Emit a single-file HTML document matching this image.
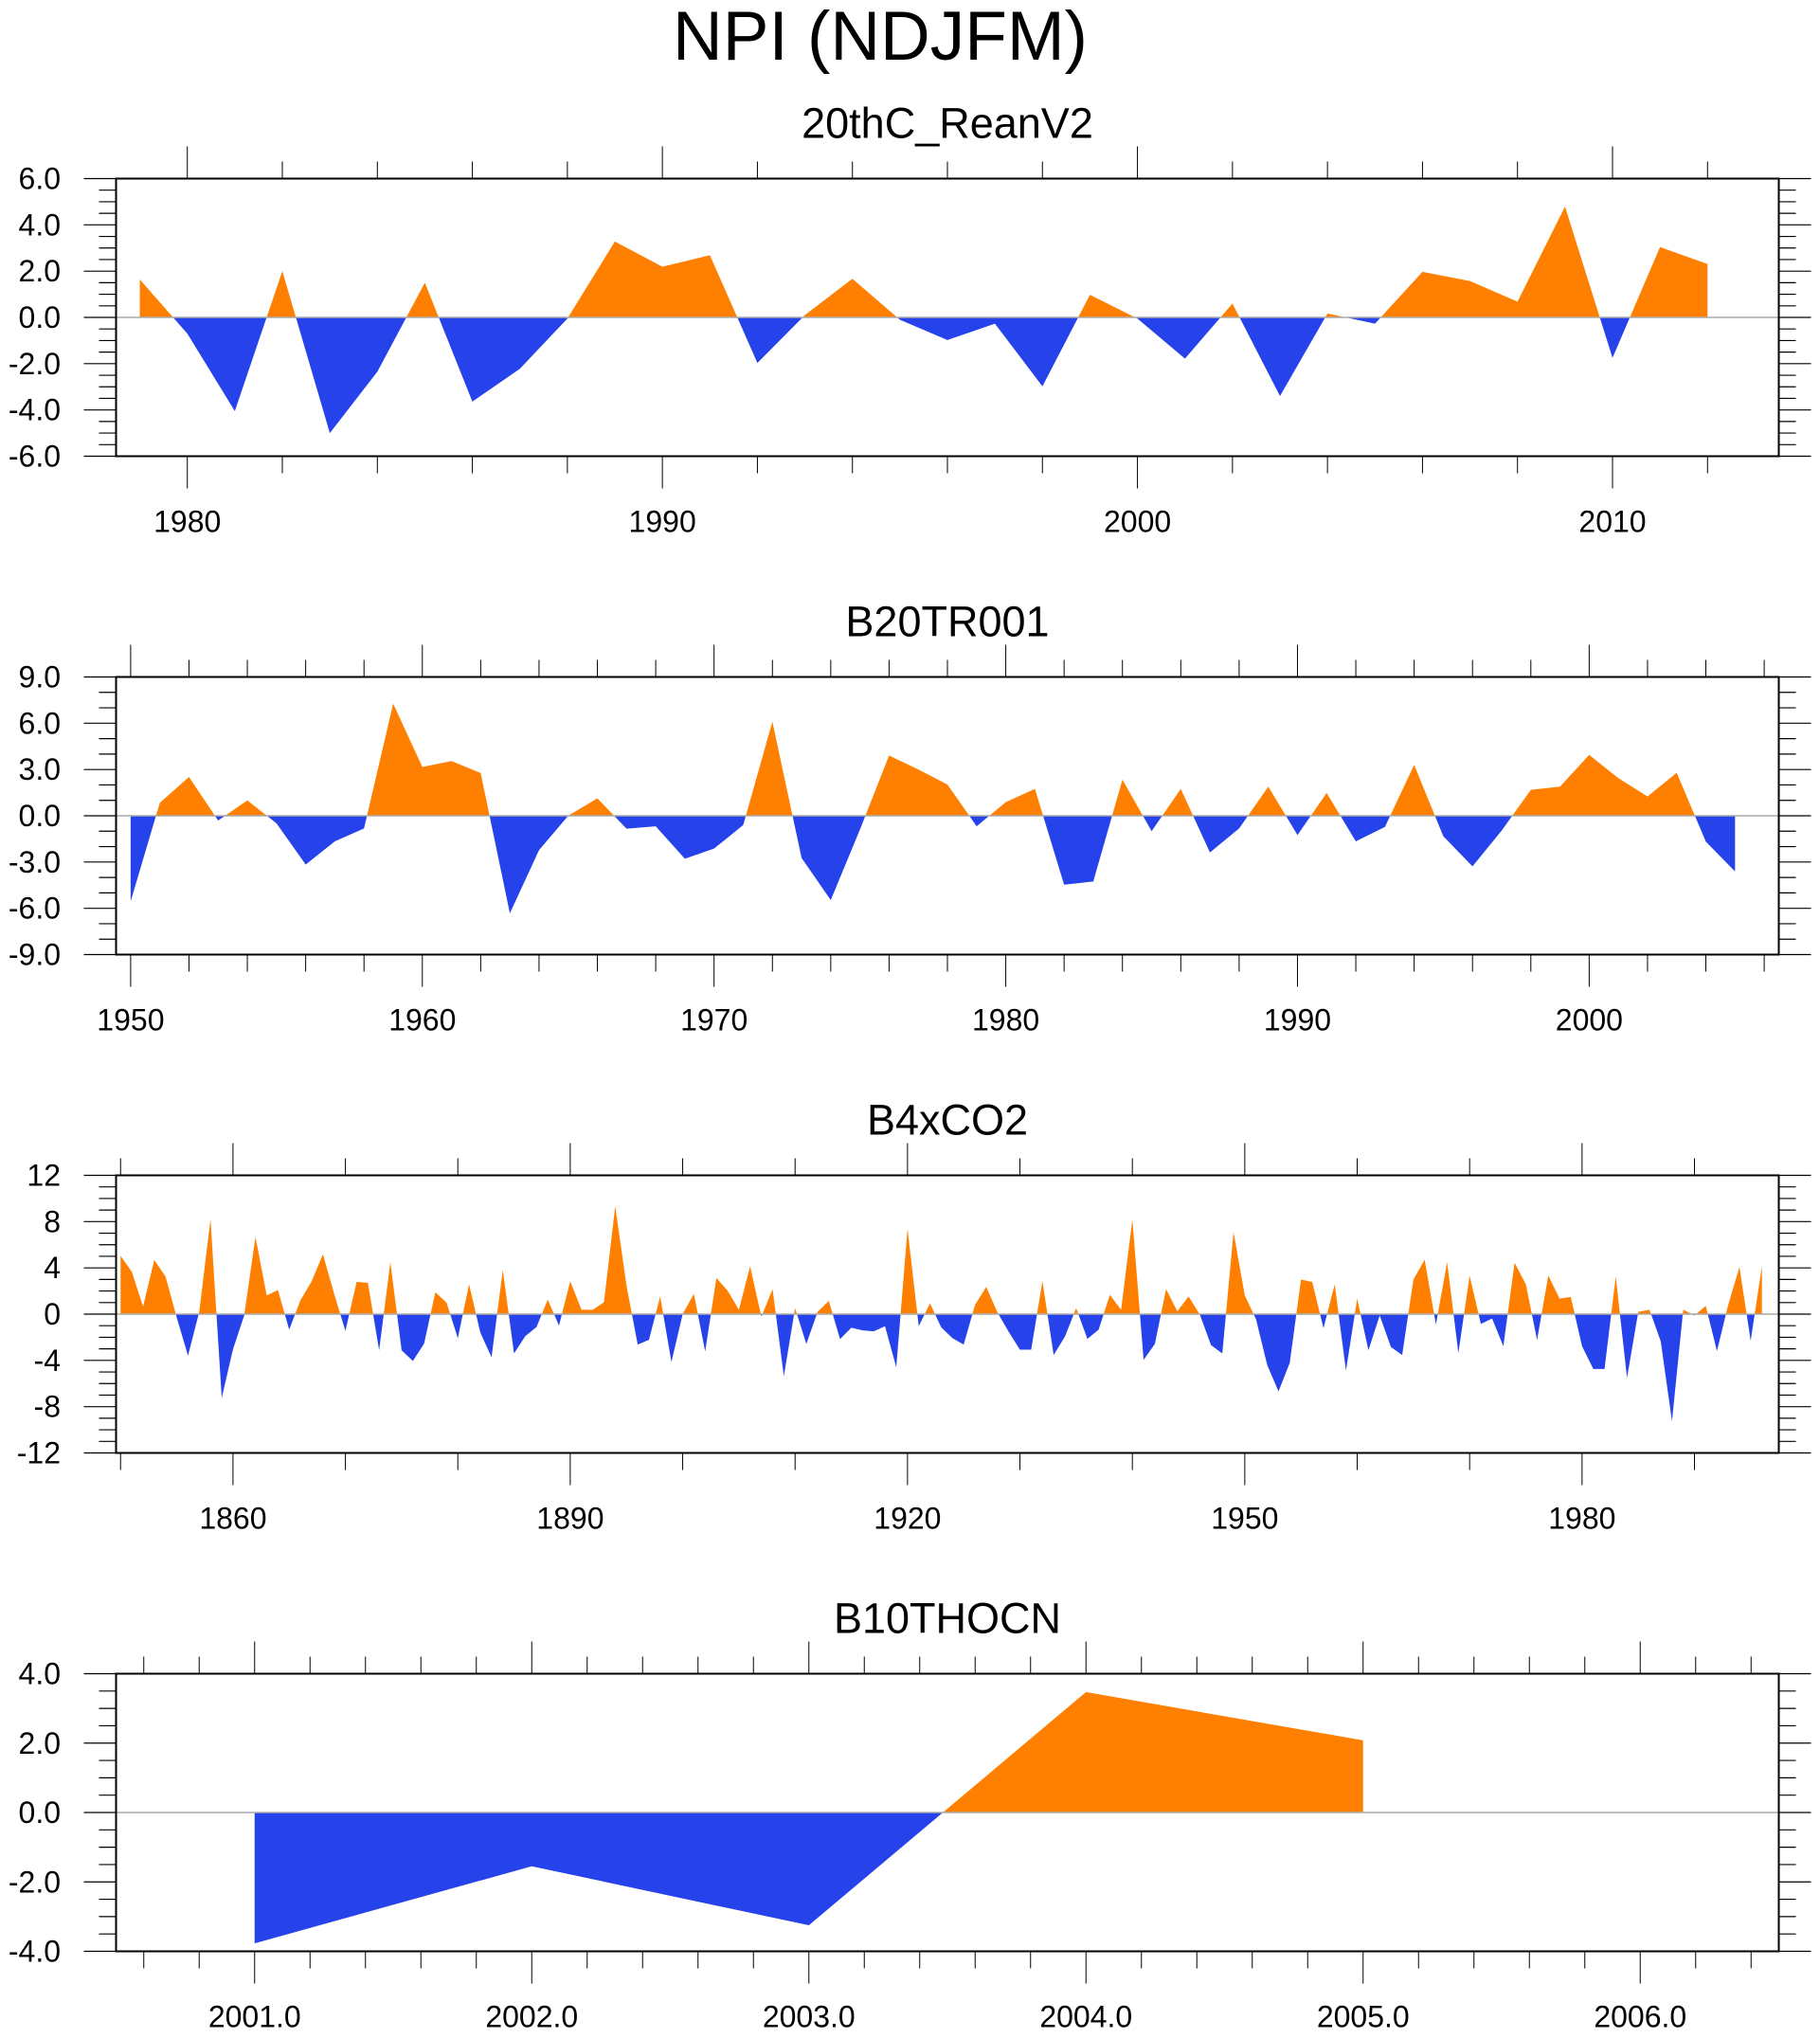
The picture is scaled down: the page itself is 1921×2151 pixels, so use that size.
<!DOCTYPE html>
<html><head><meta charset="utf-8"><style>
html,body{margin:0;padding:0;background:#fff;}
svg{display:block;font-family:"Liberation Sans",sans-serif;}
</style></head><body>
<svg id="chart" xmlns="http://www.w3.org/2000/svg" width="1921" height="2151" viewBox="0 0 1921 2151">
<text x="929" y="63" font-size="73" text-anchor="middle">NPI (NDJFM)</text>
</svg>
<script>
const p1Years = [1979,2012];
const p1Values = [1.64,-0.7,-4.05,2.0,-5.0,-2.35,1.5,-3.64,-2.22,-0.05,3.28,2.19,2.69,-1.97,0.1,1.67,-0.1,-0.98,-0.27,-2.98,0.98,-0.05,-1.78,0.6,-3.4,0.17,-0.27,1.97,1.57,0.68,4.79,-1.75,3.04,2.31];
const p1YTicks = ["-6.0","-4.0","-2.0","0.0","2.0","4.0","6.0"];
const p1XTicks = ["1980","1990","2000","2010"];

const p2Values = [-5.55,0.84,2.52,-0.31,1.0,-0.49,-3.16,-1.66,-0.82,7.27,3.16,3.55,2.77,-6.33,-2.23,0.0,1.13,-0.84,-0.68,-2.79,-2.13,-0.6,6.1,-2.73,-5.47,-0.9,3.91,3.0,2.03,-0.68,0.88,1.74,-4.47,-4.26,2.34,-1.0,1.74,-2.38,-0.82,1.89,-1.25,1.48,-1.66,-0.72,3.3,-1.33,-3.28,-0.96,1.68,1.89,3.95,2.44,1.25,2.79,-1.68,-3.61];
const p2YTicks = ["-9.0","-6.0","-3.0","0.0","3.0","6.0","9.0"];
const p2XTicks = ["1950","1960","1970","1980","1990","2000"];

const p3Values = [5.04,3.67,0.66,4.68,3.26,-0.3,-3.59,0.2,8.2,-7.23,
-3.04,-0.1,6.68,1.62,2.08,-1.34,1.2,2.85,5.18,1.75,
-1.45,2.79,2.71,-3.12,4.49,-3.12,-4.05,-2.55,1.89,0.99,
-2.08,2.58,-1.59,-3.73,3.81,-3.4,-1.9,-1.12,1.26,-0.99,
2.85,0.38,0.38,1.04,9.34,2.5,-2.63,-2.22,1.53,-4.14,
0.0,1.75,-3.23,3.12,2.03,0.38,4.14,-0.22,2.16,-5.37,
0.52,-2.58,0.19,1.15,-2.16,-1.18,-1.4,-1.48,-1.04,-4.6,
7.37,-1.04,0.93,-1.15,-2.08,-2.63,0.79,2.36,0.15,-1.53,
-3.07,-3.07,2.85,-3.53,-1.95,0.52,-2.14,-1.34,1.67,0.38,
8.19,-3.95,-2.58,2.16,0.25,1.53,-0.03,-2.68,-3.4,7.1,
1.62,-0.44,-4.41,-6.68,-4.22,2.99,2.79,-1.21,2.58,-4.88,
1.34,-3.12,-0.11,-2.85,-3.53,2.99,4.71,-0.9,4.49,-3.37,
3.32,-0.85,-0.38,-2.77,4.44,2.58,-2.22,3.34,1.34,1.48,
-2.77,-4.74,-4.74,3.26,-5.51,0.19,0.38,-2.36,-9.26,0.38,
-0.11,0.71,-3.18,0.8,4.08,-2.3,4.16];
const p3YTicks = ["-12","-8","-4","0","4","8","12"];
const p3XTicks = ["1860","1890","1920","1950","1980"];

const p4Values = [-3.77,-1.55,-3.25,3.47,2.08];
const p4YTicks = ["-4.0","-2.0","0.0","2.0","4.0"];
const p4XTicks = ["2001.0","2002.0","2003.0","2004.0","2005.0","2006.0"];

const NS="http://www.w3.org/2000/svg";
const svg=document.getElementById('chart');
const L=122.5,R=1877.5,H=293;
function mk(tag,attrs,parent){const e=document.createElementNS(NS,tag);for(const k in attrs)e.setAttribute(k,attrs[k]);(parent||svg).appendChild(e);return e;}

function panel(cfg){
  const g=mk('g',{});
  
  
  const T=cfg.top,B=T+H;
  const xs=v=>L+(v-cfg.x0)/(cfg.x1-cfg.x0)*(R-L);
  const ys=v=>T+(cfg.ymax-v)/(2*cfg.ymax)*H;
  const st=mk('text',{x:1000,y:T-43,'font-size':45,'text-anchor':'middle'},g);
  st.textContent=cfg.title;
  
  
  const pts=[];
  for(let i=0;i<cfg.values.length;i++){
    const x=cfg.start+i*cfg.step, v=cfg.values[i];
    if(i>0){const pv=cfg.values[i-1],px=x-cfg.step;
      if((pv>0&&v<0)||(pv<0&&v>0)){const t=pv/(pv-v);pts.push([px+t*cfg.step,0]);}}
    pts.push([x,v]);
  }
  const x0=pts[0][0],xn=pts[pts.length-1][0];
  let dp='M'+xs(x0)+','+ys(0), dn=dp;
  pts.forEach(p=>{dp+='L'+xs(p[0])+','+ys(Math.max(p[1],0));dn+='L'+xs(p[0])+','+ys(Math.min(p[1],0));});
  dp+='L'+xs(xn)+','+ys(0)+'Z'; dn+='L'+xs(xn)+','+ys(0)+'Z';
  const pa=mk('path',{d:dp,fill:'#ff8000'},g);
  
  
  const na=mk('path',{d:dn,fill:'#2642eb'},g);
  
  
  const zl=mk('line',{x1:L,x2:R,y1:ys(0),y2:ys(0),stroke:'#aaa','stroke-width':1.5},g);
  
  
  const eps=1e-6;
  for(let k=Math.ceil(cfg.x0/cfg.minor-eps);k*cfg.minor<=cfg.x1+eps;k++){
    const v=k*cfg.minor, x=xs(v);
    const major=Math.abs(v/cfg.major-Math.round(v/cfg.major))<1e-6;
    const len=major?34:18;
    mk('line',{x1:x,x2:x,y1:T-len,y2:T,stroke:'#000','stroke-width':1},g);
    mk('line',{x1:x,x2:x,y1:B,y2:B+len,stroke:'#000','stroke-width':1},g);
  }
  cfg.xticks.forEach(lbl=>{
    const t=mk('text',{x:xs(parseFloat(lbl)),y:B+80,'font-size':32,'text-anchor':'middle'},g);
    t.textContent=lbl;
    
    
  });
  const n=Math.round(2*cfg.ymax/cfg.yminor);
  for(let k=0;k<=n;k++){
    const v=-cfg.ymax+k*cfg.yminor,y=ys(v);
    const major=Math.abs(v/cfg.ymajor-Math.round(v/cfg.ymajor))<1e-6;
    const len=major?34:18;
    mk('line',{x1:L-len,x2:L,y1:y,y2:y,stroke:'#000','stroke-width':1.2},g);
    mk('line',{x1:R,x2:R+len,y1:y,y2:y,stroke:'#000','stroke-width':1.2},g);
  }
  cfg.yticks.forEach(lbl=>{
    const t=mk('text',{x:64,y:ys(parseFloat(lbl))+11,'font-size':32,'text-anchor':'end'},g);
    t.textContent=lbl;
    
    
  });
  const fr=mk('rect',{x:L,y:T,width:R-L,height:H,fill:'none',stroke:'#000','stroke-width':2},g);
  
  
}
panel({name:'reanv2',title:'20thC_ReanV2',top:188.5,x0:1978.5,x1:2013.5,start:p1Years[0],step:1,values:p1Values,ymax:6,ymajor:2,yminor:0.5,major:10,minor:2,xticks:p1XTicks,yticks:p1YTicks});
panel({name:'b20tr001',title:'B20TR001',top:714.5,x0:1949.5,x1:2006.5,start:1950,step:1,values:p2Values,ymax:9,ymajor:3,yminor:1,major:10,minor:2,xticks:p2XTicks,yticks:p2YTicks});
panel({name:'b4xco2',title:'B4xCO2',top:1240.5,x0:1849.6,x1:1997.5,start:1850,step:1,values:p3Values,ymax:12,ymajor:4,yminor:1,major:30,minor:10,xticks:p3XTicks,yticks:p3YTicks});
panel({name:'b10thocn',title:'B10THOCN',top:1766.5,x0:2000.5,x1:2006.5,start:2001,step:1,values:p4Values,ymax:4,ymajor:2,yminor:0.5,major:1,minor:0.2,xticks:p4XTicks,yticks:p4YTicks});
</script>
</body></html>
